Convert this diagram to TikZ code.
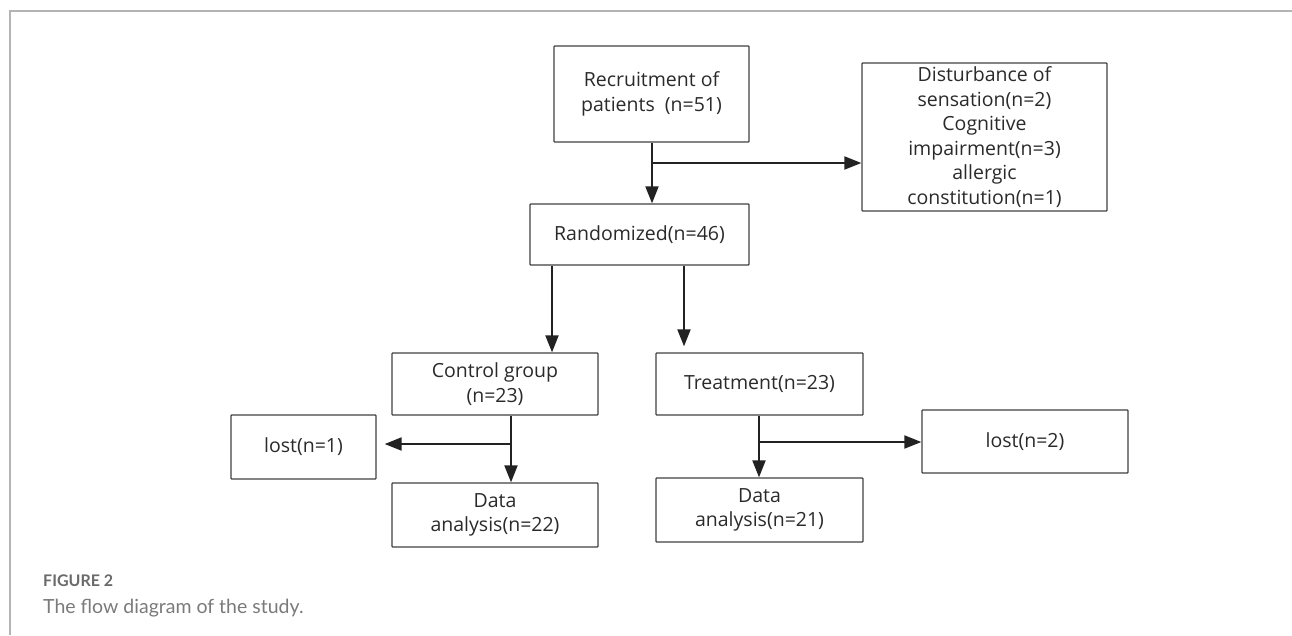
\documentclass[tikz,border=0pt]{standalone}
\usepackage{fontspec}
\setmainfont{Open Sans}
\newfontfamily\capfont{Lato}
\usetikzlibrary{arrows.meta}
\definecolor{framec}{HTML}{B4B4B4}
\definecolor{boxc}{HTML}{404040}
\definecolor{arrc}{HTML}{222222}
\definecolor{txtc}{HTML}{2A2A2A}
\definecolor{capc}{HTML}{6A6A6A}
\definecolor{capc2}{HTML}{7A7A7A}
\newcommand{\boxfont}{\fontsize{19.5}{24.5}\selectfont}
\tikzset{
  flowbox/.style={draw=boxc, line width=1.3pt, inner sep=0pt, align=center,
    font=\boxfont, text=txtc, rounded corners=0.8pt},
  flowarr/.style={draw=arrc, line width=2pt, -{Triangle[length=17pt,width=13pt]}},
  frameline/.style={draw=framec, line width=1.6pt}
}
\begin{document}
\begin{tikzpicture}[x=1pt,y=-1pt]
\useasboundingbox (0,0) rectangle (1292,635);
% frame
\coordinate (f0) at (10,11);
\coordinate (f1) at (1292,11);
\coordinate (f2) at (10,635);
\draw[frameline] (f1) -- (f0) -- (f2);
% boxes
\node[flowbox, minimum width=195pt, minimum height=96pt] (rec) at (651.5,94) {Recruitment of\\patients\ \ (n=51)};
\node[flowbox, minimum width=245pt, minimum height=148pt] (dist) at (984.5,137) {Disturbance of\\sensation(n=2)\\Cognitive\\impairment(n=3)\\allergic\\constitution(n=1)};
\node[flowbox, minimum width=219pt, minimum height=61pt] (rand) at (639.5,234.5) {Randomized(n=46)};
\node[flowbox, minimum width=206pt, minimum height=62pt] (ctrl) at (495,384) {Control group\\(n=23)};
\node[flowbox, minimum width=207pt, minimum height=62pt] (treat) at (759.5,384) {Treatment(n=23)};
\node[flowbox, minimum width=145pt, minimum height=64pt] (lost1) at (303.5,447) {lost(n=1)};
\node[flowbox, minimum width=206pt, minimum height=63pt] (lost2) at (1025,441.5) {lost(n=2)};
\node[flowbox, minimum width=206pt, minimum height=64pt] (da1) at (495,515) {Data\\analysis(n=22)};
\node[flowbox, minimum width=207pt, minimum height=64pt] (da2) at (759.5,510) {Data\\analysis(n=21)};
% junctions
\coordinate (j1) at (652,163);
\coordinate (cA) at (552,300);
\coordinate (cB) at (684,300);
\coordinate (j2) at (511,444);
\coordinate (j3) at (759,442);
% connectors
\draw[flowarr] (rec.south -| j1) -- (rand.north -| j1);
\draw[flowarr] (j1) -- (dist.west |- j1);
\draw[flowarr] (rand.south -| cA) -- (ctrl.north -| cA);
\draw[flowarr, shorten >=6pt] (rand.south -| cB) -- (treat.north -| cB);
\draw[flowarr] (ctrl.south -| j2) -- (da1.north -| j2);
\draw[flowarr, shorten >=8pt] (j2) -- (lost1.east |- j2);
\draw[flowarr] (treat.south -| j3) -- (da2.north -| j3);
\draw[flowarr] (j3) -- (lost2.west |- j3);
% caption
\node[anchor=base west, inner sep=0pt, text=capc, font={\capfont\bfseries\fontsize{16}{18}\selectfont}] (figlab) at (43,586) {FIGURE 2};
\node[anchor=base west, inner sep=0pt, text=capc2, font={\capfont\fontsize{19.5}{22}\selectfont}] (figcap) at (43,613) {The flow diagram of the study.};
\end{tikzpicture}
\end{document}
